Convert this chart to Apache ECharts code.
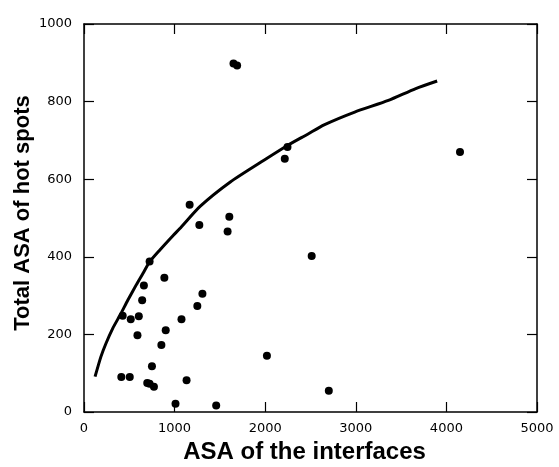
<!DOCTYPE html>
<html>
<head>
<meta charset="utf-8">
<script src="https://cdn.jsdelivr.net/npm/echarts@6/dist/echarts.min.js"></script>
<style>html,body{margin:0;padding:0;background:#fff}#c{width:559px;height:467px}</style>
</head>
<body>
<div id="c"></div>
<script>
var xTicks = [0, 1000, 2000, 3000, 4000, 5000];
var yTicks = [0, 200, 400, 600, 800, 1000];
var pointsX = [1166, 1604, 1273, 1585, 724, 887, 661, 1307, 642, 1251, 427, 605, 516, 1076, 590, 902, 854, 750, 2019, 412, 505, 1132, 698, 724, 772, 1010, 1459, 1650, 1690, 2216, 2246, 4150, 2513, 2702];
var pointsY = [534, 503, 482, 465, 388, 346, 326, 305, 288, 273, 248, 247, 239, 239, 198, 211, 173, 118, 145, 90, 90, 82, 75, 73, 65, 21, 17, 898, 893, 653, 683, 670, 402, 55];
var curveX = [122, 186, 241, 316, 408, 483, 575, 650, 724, 835, 984, 1058, 1281, 1615, 1986, 2246, 2469, 2650, 2988, 3360, 3656, 3898];
var curveY = [91, 142, 176, 215, 254, 288, 327, 357, 387, 417, 455, 473, 530, 593, 649, 687, 716, 740, 773, 803, 833, 853];

var scatterData = pointsX.map(function (x, i) { return [x, pointsY[i]]; });
var curveData = curveX.map(function (x, i) { return [x, curveY[i]]; });

function axLine() { return { show: true, onZero: false, lineStyle: { color: '#000', width: 1.5 } }; }
function axTick() { return { show: true, inside: true, length: 10, lineStyle: { color: '#000', width: 1.2 } }; }
function lbl(margin) {
  return { show: true, margin: margin, color: '#000', fontFamily: 'DejaVu Sans', fontSize: 13,
    formatter: function (v) { return String(v); } };
}

var chart = echarts.init(document.getElementById('c'));
chart.setOption({
  animation: false,
  backgroundColor: '#fff',
  grid: { left: 84, right: 22, top: 24, bottom: 55, containLabel: false, outerBoundsMode: 'none' },
  xAxis: [{
    type: 'value', min: xTicks[0], max: xTicks[xTicks.length - 1], interval: 1000,
    position: 'bottom',
    axisLine: axLine(), axisTick: axTick(), splitLine: { show: false },
    axisLabel: lbl(10),
    name: 'ASA of the interfaces', nameLocation: 'middle', nameGap: 26,
    nameTextStyle: { color: '#000', fontFamily: 'Liberation Sans', fontWeight: 'bold', fontSize: 24, padding: [0, 12, 0, 0] }
  }, {
    type: 'value', min: xTicks[0], max: xTicks[xTicks.length - 1], interval: 1000,
    position: 'top',
    axisLine: axLine(), axisTick: axTick(), splitLine: { show: false },
    axisLabel: { show: false }
  }],
  yAxis: [{
    type: 'value', min: yTicks[0], max: yTicks[yTicks.length - 1], interval: 200,
    position: 'left',
    axisLine: axLine(), axisTick: axTick(), splitLine: { show: false },
    axisLabel: lbl(12),
    name: 'Total ASA of hot spots', nameLocation: 'middle', nameGap: 50, nameMoveOverlap: false,
    nameTextStyle: { color: '#000', fontFamily: 'Liberation Sans', fontWeight: 'bold', fontSize: 22, padding: [0, 0, 0, 10] }
  }, {
    type: 'value', min: yTicks[0], max: yTicks[yTicks.length - 1], interval: 200,
    position: 'right',
    axisLine: axLine(), axisTick: axTick(), splitLine: { show: false },
    axisLabel: { show: false }
  }],
  series: [{
    type: 'line', data: curveData, smooth: 0.2, showSymbol: false, symbol: 'none',
    lineStyle: { color: '#000', width: 3 }, z: 2
  }, {
    type: 'scatter', data: scatterData, symbol: 'circle', symbolSize: 8,
    itemStyle: { color: '#000', opacity: 1 }, z: 3
  }]
});
</script>
</body>
</html>
